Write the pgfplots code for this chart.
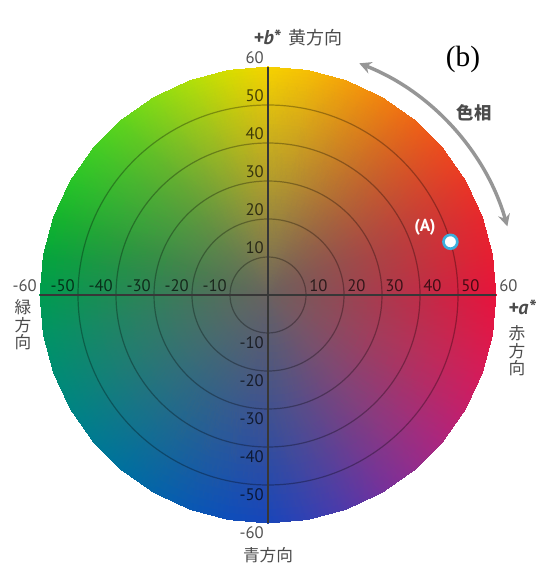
\documentclass[border=0pt]{standalone}
\usepackage{pgfplots}
\pgfplotsset{compat=1.18}
\usepackage{fontspec}
\setmainfont{PT Sans}
\newfontfamily\jp{Noto Sans CJK JP}
\newfontfamily\tms{Liberation Serif}
\usetikzlibrary{arrows.meta}
\definecolor{axgray}{RGB}{55,55,55}
\definecolor{acyan}{RGB}{60,175,220}
\definecolor{lblgray}{RGB}{75,75,75}
\definecolor{arrgray}{RGB}{150,150,150}

\pgfplotstableread{
x y z c
0 0 0 rgb255=105,98,95
0 0 0 rgb255=105,98,95
0 0 0 rgb255=105,98,95
0 0 0 rgb255=105,98,95
0 0 0 rgb255=105,98,95
0 0 0 rgb255=105,98,95
0 0 0 rgb255=105,98,95
0 0 0 rgb255=105,98,95
0 0 0 rgb255=105,98,95
0 0 0 rgb255=105,98,95
0 0 0 rgb255=105,98,95
0 0 0 rgb255=105,98,95
0 0 0 rgb255=105,98,95
0 0 0 rgb255=105,98,95
0 0 0 rgb255=105,98,95
0 0 0 rgb255=105,98,95
0 0 0 rgb255=105,98,95
0 0 0 rgb255=105,98,95
0 0 0 rgb255=105,98,95
0 0 0 rgb255=105,98,95
0 0 0 rgb255=105,98,95
0 0 0 rgb255=105,98,95
0 0 0 rgb255=105,98,95
0 0 0 rgb255=105,98,95
0 0 0 rgb255=105,98,95
0 0 0 rgb255=105,98,95
0 0 0 rgb255=105,98,95
0 0 0 rgb255=105,98,95
0 0 0 rgb255=105,98,95
0 0 0 rgb255=105,98,95
0 0 0 rgb255=105,98,95
0 0 0 rgb255=105,98,95
0 0 0 rgb255=105,98,95
0 0 0 rgb255=105,98,95
0 0 0 rgb255=105,98,95
0 0 0 rgb255=105,98,95
0 0 0 rgb255=105,98,95
30 0 0 rgb255=170,58,78
29.54 5.21 0 rgb255=170,63,72
28.19 10.26 0 rgb255=170,68,69
25.98 15 0 rgb255=172,76,65
22.98 19.28 0 rgb255=174,87,60
19.28 22.98 0 rgb255=175,100,56
15 25.98 0 rgb255=177,115,52
10.26 28.19 0 rgb255=178,131,50
5.21 29.54 0 rgb255=178,146,47
0 30 0 rgb255=177,156,45
-5.21 29.54 0 rgb255=160,161,45
-10.26 28.19 0 rgb255=138,162,50
-15 25.98 0 rgb255=116,160,55
-19.28 22.98 0 rgb255=96,157,58
-22.98 19.28 0 rgb255=80,154,62
-25.98 15 0 rgb255=68,149,66
-28.19 10.26 0 rgb255=58,141,70
-29.54 5.21 0 rgb255=52,134,78
-30 0 0 rgb255=50,128,88
-29.54 -5.21 0 rgb255=50,124,98
-28.19 -10.26 0 rgb255=50,120,106
-25.98 -15 0 rgb255=50,115,114
-22.98 -19.28 0 rgb255=50,110,122
-19.28 -22.98 0 rgb255=50,104,129
-15 -25.98 0 rgb255=52,98,134
-10.26 -28.19 0 rgb255=56,92,139
-5.21 -29.54 0 rgb255=60,86,142
0 -30 0 rgb255=65,82,142
5.21 -29.54 0 rgb255=78,80,139
10.26 -28.19 0 rgb255=93,76,134
15 -25.98 0 rgb255=110,72,127
19.28 -22.98 0 rgb255=126,70,119
22.98 -19.28 0 rgb255=140,66,110
25.98 -15 0 rgb255=152,63,100
28.19 -10.26 0 rgb255=161,61,92
29.54 -5.21 0 rgb255=166,59,84
30 0 0 rgb255=170,58,78
60 0 0 rgb255=230,20,60
59.09 10.42 0 rgb255=230,30,50
56.38 20.52 0 rgb255=230,40,45
51.96 30 0 rgb255=232,55,38
45.96 38.57 0 rgb255=235,75,30
38.57 45.96 0 rgb255=237,100,22
30 51.96 0 rgb255=240,130,15
20.52 56.38 0 rgb255=243,160,10
10.42 59.09 0 rgb255=245,190,5
0 60 0 rgb255=245,210,0
-10.42 59.09 0 rgb255=215,220,0
-20.52 56.38 0 rgb255=175,222,10
-30 51.96 0 rgb255=135,218,20
-38.57 45.96 0 rgb255=95,212,28
-45.96 38.57 0 rgb255=65,205,35
-51.96 30 0 rgb255=40,195,40
-56.38 20.52 0 rgb255=20,180,45
-59.09 10.42 0 rgb255=5,165,60
-60 0 0 rgb255=0,155,80
-59.09 -10.42 0 rgb255=0,148,100
-56.38 -20.52 0 rgb255=0,140,115
-51.96 -30 0 rgb255=0,132,130
-45.96 -38.57 0 rgb255=0,122,145
-38.57 -45.96 0 rgb255=0,112,158
-30 -51.96 0 rgb255=5,100,168
-20.52 -56.38 0 rgb255=10,88,178
-10.42 -59.09 0 rgb255=15,78,185
0 -60 0 rgb255=25,70,185
10.42 -59.09 0 rgb255=50,65,178
20.52 -56.38 0 rgb255=80,58,168
30 -51.96 0 rgb255=115,50,155
38.57 -45.96 0 rgb255=145,45,140
45.96 -38.57 0 rgb255=172,38,125
51.96 -30 0 rgb255=195,32,105
56.38 -20.52 0 rgb255=212,28,88
59.09 -10.42 0 rgb255=223,24,72
60 0 0 rgb255=230,20,60
}\wheel

\begin{document}
\begin{tikzpicture}
\begin{axis}[
  scale only axis, width=342pt, height=342pt,
  view={0}{90}, hide axis,
  xmin=-60, xmax=60, ymin=-60, ymax=60, zmin=-1, zmax=1,
  clip=false,
]
\addplot3[surf, shader=interp, mesh/color input=explicit,
  point meta=explicit symbolic, mesh/cols=37] table[meta=c] {\wheel};
\draw[black, opacity=0.3, line width=0.9pt] (axis cs:0,0,0) circle[radius=28.5pt];
\draw[black, opacity=0.3, line width=0.9pt] (axis cs:0,0,0) circle[radius=57pt];
\draw[black, opacity=0.3, line width=0.9pt] (axis cs:0,0,0) circle[radius=85.5pt];
\draw[black, opacity=0.3, line width=0.9pt] (axis cs:0,0,0) circle[radius=114pt];
\draw[black, opacity=0.3, line width=0.9pt] (axis cs:0,0,0) circle[radius=142.5pt];
\addplot3[axgray, line width=1.5pt] coordinates {(-60,0,0) (60,0,0)};
\addplot3[axgray, line width=1.5pt] coordinates {(0,-60,0) (0,60,0)};
\addplot3[only marks, mark=*, mark size=5.2pt,
  mark options={fill=white, draw=acyan, line width=2pt}] coordinates {(48,14,0)};
\coordinate (O) at (axis cs:0,0,0);
\end{axis}

\begin{scope}[shift={(O)}, xshift=-201pt, yshift=-201.75pt, x=0.75pt, y=0.75pt]
\begin{scope}[font=\fontsize{12.5}{13}\selectfont, text=black, text opacity=0.68, inner sep=1.5pt]
\foreach \v in {10,20,30,40,50,60}{
  \node[anchor=south west] at ({269+3.8*\v},270) {\v};
  \node[anchor=south east] at ({267-3.8*\v},270) {-\v};
  \node[anchor=south east] at (266,{270+3.8*\v}) {\v};
  \node[anchor=north east] at (266,{268-3.8*\v}) {-\v};
}
\end{scope}

\draw[arrgray, line width=2.6pt, {Stealth[length=9pt,width=9pt]}-{Stealth[length=9pt,width=9pt]}]
  ([shift={(16:249)}]268,269) arc[start angle=16, end angle=68.5, radius=249];

\node[text=lblgray, inner sep=0pt] at (298,526)
  {\fontsize{15}{17}\selectfont\bfseries\itshape +b*\hspace{6pt}\upshape\mdseries\jp\fontsize{13.5}{15}\selectfont 黄方向};
\node[inner sep=0pt] at (463,505) {\tms\fontsize{22}{24}\selectfont (b)};
\node[text=lblgray, inner sep=0pt] at (474,451) {\jp\bfseries\fontsize{13}{15}\selectfont 色相};
\node[text=white, inner sep=0pt] at (425,337) {\bfseries\fontsize{13}{15}\selectfont (A)};
\node[text=lblgray, inner sep=0pt] at (522,257) {\fontsize{15}{17}\selectfont\bfseries\itshape +a*};
\node[text=lblgray, inner sep=0pt, align=center, font=\jp\fontsize{12.5}{13}\selectfont] at (517,213) {赤\\方\\向};
\node[text=lblgray, inner sep=0pt, align=center, font=\jp\fontsize{12.5}{13}\selectfont] at (23,239) {緑\\方\\向};
\node[text=lblgray, inner sep=0pt, font=\jp\fontsize{12.5}{14}\selectfont] at (268,9) {青方向};

\pgfresetboundingbox
\path (0,0) rectangle (541,564);
\end{scope}
\end{tikzpicture}
\end{document}
